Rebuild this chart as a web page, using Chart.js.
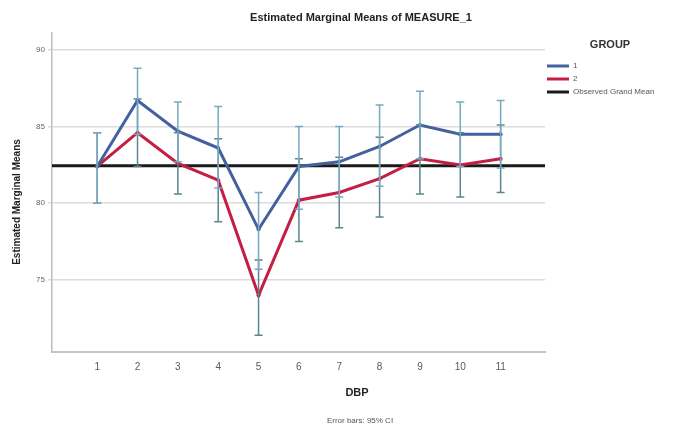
<!DOCTYPE html>
<html>
<head>
<meta charset="utf-8">
<script src="https://cdn.jsdelivr.net/npm/chart.js@4/dist/chart.umd.min.js"></script>
<style>
  html, body { margin: 0; padding: 0; background: #ffffff; }
  #wrap { width: 682px; height: 427px; }
</style>
</head>
<body>
<div id="wrap"><canvas id="chart" width="682" height="427"></canvas></div>
<script>
// DBP levels on the horizontal axis
const dbpLevels = [1, 2, 3, 4, 5, 6, 7, 8, 9, 10, 11];

// Estimated marginal means per group
const group1Means = [82.4, 86.7, 84.7, 83.6, 78.3, 82.4, 82.7, 83.7, 85.1, 84.5, 84.5];
const group2Means = [82.4, 84.6, 82.6, 81.5, 74.0, 80.2, 80.7, 81.6, 82.9, 82.5, 82.9];

// 95% confidence intervals (lower / upper)
const group1Lower = [80.0, 84.5, 82.7, 81.0, 75.7, 79.6, 80.4, 81.1, 82.9, 82.4, 82.3];
const group1Upper = [84.6, 88.8, 86.6, 86.3, 80.7, 85.0, 85.0, 86.4, 87.3, 86.6, 86.7];
const group2Lower = [80.0, 82.4, 80.6, 78.8, 71.4, 77.5, 78.4, 79.1, 80.6, 80.4, 80.7];
const group2Upper = [84.6, 86.8, 84.6, 84.2, 76.3, 82.9, 83.0, 84.3, 85.1, 84.6, 85.1];

// Observed grand mean (horizontal reference line)
const grandMean = [82.45];

// Axis ticks
const yTickValues = [75, 80, 85, 90];
const xTickValues = dbpLevels;

const seriesLabels = ['1', '2', 'Observed Grand Mean'];
const colors = {
  g1: '#43609f',
  g2: '#c41e45',
  mean: '#1a1a1a',
  bar1: '#78a9c2',
  bar2: '#5a8690'
};

const X_MIN = -0.12, X_MAX = 12.1;
const Y_MIN = 70.3, Y_MAX = 91.1;

const toPoints = (vals) => dbpLevels.map((x, i) => ({ x: x, y: vals[i] }));

// Error bars drawn through the chart's scales
const errorBarPlugin = {
  id: 'errorBars',
  afterDatasetsDraw(chart) {
    const { ctx, scales: { x, y } } = chart;
    const sets = [
      { lo: group2Lower, hi: group2Upper, color: colors.bar2 },
      { lo: group1Lower, hi: group1Upper, color: colors.bar1 }
    ];
    ctx.save();
    ctx.lineWidth = 1.5;
    sets.forEach(s => {
      ctx.strokeStyle = s.color;
      dbpLevels.forEach((lvl, i) => {
        const px = x.getPixelForValue(lvl);
        const y0 = y.getPixelForValue(s.lo[i]);
        const y1 = y.getPixelForValue(s.hi[i]);
        ctx.beginPath();
        ctx.moveTo(px, y0); ctx.lineTo(px, y1);
        ctx.moveTo(px - 4, y0); ctx.lineTo(px + 4, y0);
        ctx.moveTo(px - 4, y1); ctx.lineTo(px + 4, y1);
        ctx.stroke();
      });
    });
    ctx.restore();
  }
};

// Titles, legend and footnote
const annotationPlugin = {
  id: 'annotations',
  afterDraw(chart) {
    const { ctx } = chart;
    ctx.save();
    ctx.fillStyle = '#222';
    ctx.textAlign = 'center';
    ctx.textBaseline = 'middle';
    ctx.font = 'bold 11px "Liberation Sans", Arial, sans-serif';
    ctx.fillText('Estimated Marginal Means of MEASURE_1', 361, 18);

    ctx.font = 'bold 11px "Liberation Sans", Arial, sans-serif';
    ctx.fillText('DBP', 357, 393);

    ctx.font = '8px "Liberation Sans", Arial, sans-serif';
    ctx.fillStyle = '#555';
    ctx.fillText('Error bars: 95% CI', 360, 421);

    ctx.save();
    ctx.translate(17, 202);
    ctx.rotate(-Math.PI / 2);
    ctx.fillStyle = '#222';
    ctx.font = 'bold 10px "Liberation Sans", Arial, sans-serif';
    ctx.fillText('Estimated Marginal Means', 0, 0);
    ctx.restore();

    // Legend
    ctx.fillStyle = '#333';
    ctx.font = 'bold 11px "Liberation Sans", Arial, sans-serif';
    ctx.fillText('GROUP', 610, 45);
    const legendColors = [colors.g1, colors.g2, colors.mean];
    const rows = [66, 79, 92];
    ctx.textAlign = 'left';
    ctx.font = '8px "Liberation Sans", Arial, sans-serif';
    seriesLabels.forEach((lab, i) => {
      ctx.strokeStyle = legendColors[i];
      ctx.lineWidth = 3;
      ctx.beginPath();
      ctx.moveTo(547, rows[i]); ctx.lineTo(569, rows[i]);
      ctx.stroke();
      ctx.fillStyle = '#555';
      ctx.fillText(lab, 573, rows[i]);
    });
    ctx.restore();
  }
};

new Chart(document.getElementById('chart'), {
  type: 'line',
  data: {
    datasets: [
      {
        label: seriesLabels[0],
        data: toPoints(group1Means),
        borderColor: colors.g1,
        backgroundColor: colors.g1,
        borderWidth: 3,
        pointRadius: 2,
        pointBorderWidth: 0,
        tension: 0,
        order: 1
      },
      {
        label: seriesLabels[1],
        data: toPoints(group2Means),
        borderColor: colors.g2,
        backgroundColor: colors.g2,
        borderWidth: 3,
        pointRadius: 2,
        pointBorderWidth: 0,
        tension: 0,
        order: 2
      },
      {
        label: seriesLabels[2],
        data: [{ x: X_MIN, y: grandMean[0] }, { x: X_MAX, y: grandMean[0] }],
        borderColor: colors.mean,
        borderWidth: 3,
        pointRadius: 0,
        order: 3
      }
    ]
  },
  options: {
    responsive: false,
    animation: false,
    devicePixelRatio: 1,
    layout: { padding: { left: 0, top: 33, right: 137, bottom: 0 } },
    plugins: {
      legend: { display: false },
      title: { display: false },
      tooltip: { enabled: false }
    },
    scales: {
      x: {
        type: 'linear',
        min: X_MIN,
        max: X_MAX,
        afterBuildTicks: (scale) => { scale.ticks = xTickValues.map(v => ({ value: v })); },
        afterFit: (scale) => { scale.height = 75; },
        grid: { display: false, drawTicks: false },
        border: { display: true, color: '#c4c4c4', width: 2 },
        ticks: {
          padding: 9,
          color: '#5a5a5a',
          font: { size: 10, family: '"Liberation Sans", Arial, sans-serif' },
          callback: (v) => String(v)
        }
      },
      y: {
        type: 'linear',
        min: Y_MIN,
        max: Y_MAX,
        afterBuildTicks: (scale) => { scale.ticks = yTickValues.map(v => ({ value: v })); },
        afterFit: (scale) => { scale.width = 52; },
        grid: { color: '#dcdcdc', lineWidth: 1.5, tickLength: 4, drawTicks: true },
        border: { display: true, color: '#bdbdbd', width: 1.5 },
        ticks: {
          padding: 3,
          color: '#666',
          font: { size: 8, family: '"Liberation Sans", Arial, sans-serif' },
          callback: (v) => String(v)
        }
      }
    }
  },
  plugins: [errorBarPlugin, annotationPlugin]
});
</script>
</body>
</html>
